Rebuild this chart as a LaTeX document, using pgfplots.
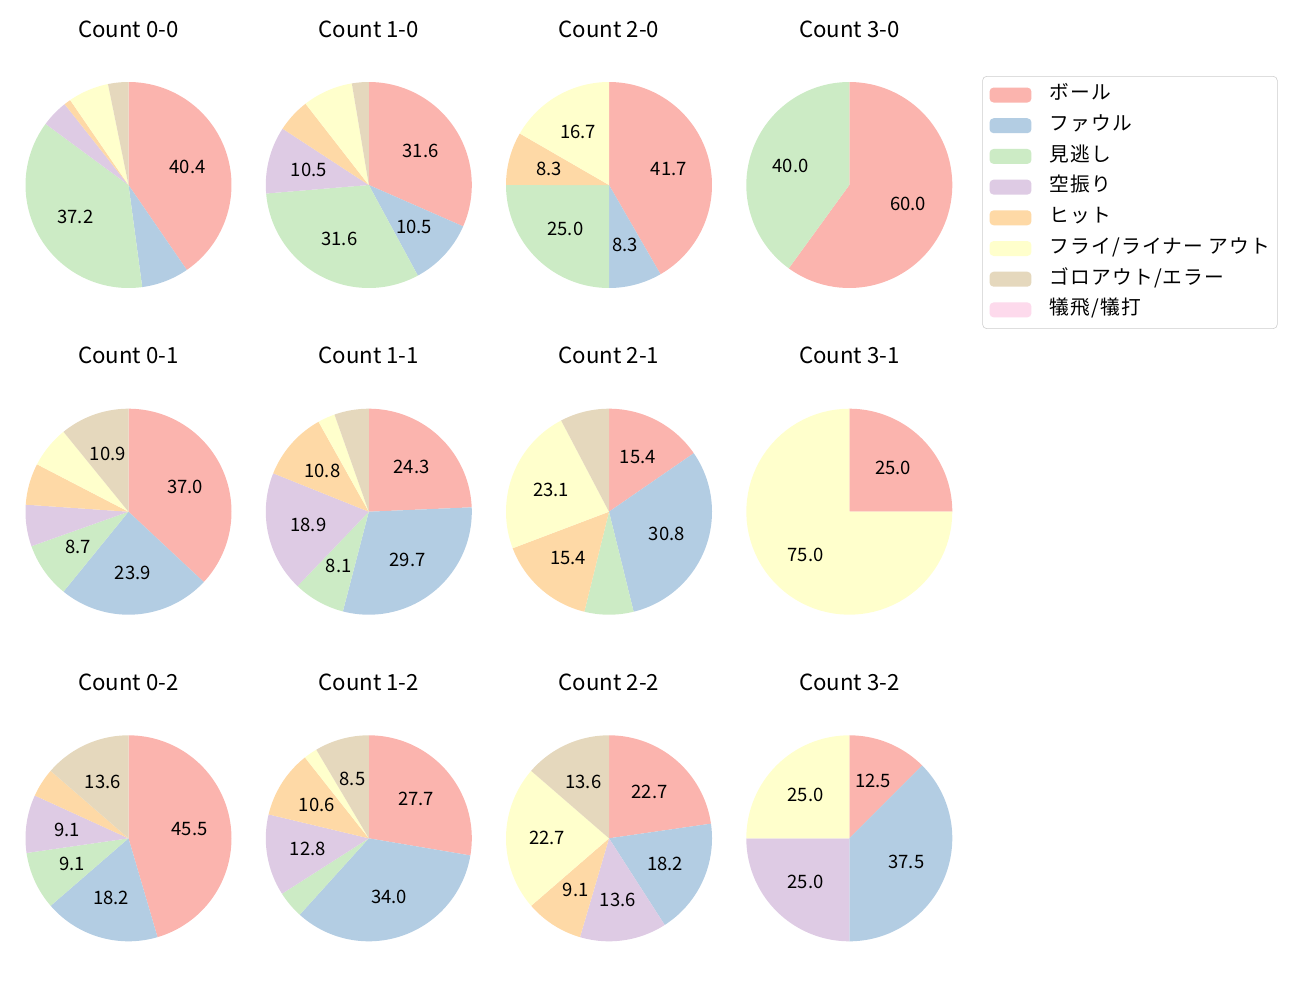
\documentclass[border=0pt]{standalone}
\usepackage{pgfplots}
\pgfplotsset{compat=1.18}
\usepackage{fontspec}
\setmainfont{Noto Sans CJK JP}
\newfontfamily\legjp[LetterSpace=6]{Noto Sans CJK JP}
\newcommand\titlefont{\fontsize{16}{19}\selectfont}
\newcommand\labfont{\fontsize{13.3}{16}\selectfont}
\newcommand\legfont{\legjp\fontsize{14.2}{17}\selectfont}
\definecolor{pie1}{HTML}{FBB4AE}
\definecolor{pie2}{HTML}{B3CDE3}
\definecolor{pie3}{HTML}{CCEBC5}
\definecolor{pie4}{HTML}{DECBE4}
\definecolor{pie5}{HTML}{FED9A6}
\definecolor{pie6}{HTML}{FFFFCC}
\definecolor{pie7}{HTML}{E5D8BD}
\definecolor{pie8}{HTML}{FDDAEC}
\pgfplotsset{pieax/.style={hide axis, scale only axis, width=148.32pt, height=148.32pt,
  xmin=-1, xmax=1, ymin=-1, ymax=1, anchor=center, clip=false}}
% counts: ボール, ファウル, 見逃し, 空振り, ヒット, フライ/ライナー アウト, ゴロアウト/エラー, 犠飛/犠打
\newcommand\drawpie[2]{%
  \xdef\tot{0}%
  \foreach \v in {#1}{\pgfmathtruncatemacro\tmp{\tot+\v}\xdef\tot{\tmp}}%
  \xdef\cum{0}%
  \foreach \v [count=\i] in {#1}{%
    \pgfmathsetmacro\angA{90-360*(\cum/\tot)}%
    \pgfmathtruncatemacro\tmp{\cum+\v}\xdef\cum{\tmp}%
    \pgfmathsetmacro\angB{90-360*(\cum/\tot)}%
    \ifnum\v>0
      \edef\temp{\noexpand\addplot[fill=pie\i, draw=none, mark=none, domain=\angB:\angA, samples=72, variable=\noexpand\t] ({cos(\noexpand\t)},{sin(\noexpand\t)}) -- (axis cs:0,0) -- cycle;}\temp
      \pgfmathtruncatemacro\rr{round(1000*(\v/\tot))}%
      \ifnum\rr>79
        \pgfmathtruncatemacro\pint{\rr/10}%
        \pgfmathtruncatemacro\pdec{\rr-10*\pint}%
        \pgfmathsetmacro\lx{0.6*cos((\angA+\angB)/2)}%
        \pgfmathsetmacro\ly{0.6*sin((\angA+\angB)/2)}%
        \edef\temp{\noexpand\node[font=\noexpand\labfont] at (axis cs:\lx,\ly) {\pint.\pdec};}\temp
      \fi
    \fi
  }%
  \node[font=\titlefont] at (axis cs:0,1.515) {#2};
}
\begin{document}
\begin{tikzpicture}[x=0.72pt,y=-0.72pt]
\path[use as bounding box] (0,0) rectangle (1300,1000);
\coordinate (p00) at (128.5,185);
\coordinate (p10) at (368.8,185);
\coordinate (p20) at (609,185);
\coordinate (p30) at (849.3,185);
\coordinate (p01) at (128.5,511.7);
\coordinate (p11) at (368.8,511.7);
\coordinate (p21) at (609,511.7);
\coordinate (p31) at (849.3,511.7);
\coordinate (p02) at (128.5,838.3);
\coordinate (p12) at (368.8,838.3);
\coordinate (p22) at (609,838.3);
\coordinate (p32) at (849.3,838.3);

\begin{axis}[pieax, at={(p00)}]\drawpie{38,7,35,4,1,6,3,0}{Count 0-0}\end{axis}
\begin{axis}[pieax, at={(p10)}]\drawpie{12,4,12,4,2,3,1,0}{Count 1-0}\end{axis}
\begin{axis}[pieax, at={(p20)}]\drawpie{5,1,3,0,1,2,0,0}{Count 2-0}\end{axis}
\begin{axis}[pieax, at={(p30)}]\drawpie{3,0,2,0,0,0,0,0}{Count 3-0}\end{axis}
\begin{axis}[pieax, at={(p01)}]\drawpie{17,11,4,3,3,3,5,0}{Count 0-1}\end{axis}
\begin{axis}[pieax, at={(p11)}]\drawpie{9,11,3,7,4,1,2,0}{Count 1-1}\end{axis}
\begin{axis}[pieax, at={(p21)}]\drawpie{2,4,1,0,2,3,1,0}{Count 2-1}\end{axis}
\begin{axis}[pieax, at={(p31)}]\drawpie{1,0,0,0,0,3,0,0}{Count 3-1}\end{axis}
\begin{axis}[pieax, at={(p02)}]\drawpie{10,4,2,2,1,0,3,0}{Count 0-2}\end{axis}
\begin{axis}[pieax, at={(p12)}]\drawpie{13,16,2,6,5,1,4,0}{Count 1-2}\end{axis}
\begin{axis}[pieax, at={(p22)}]\drawpie{5,4,0,3,2,5,3,0}{Count 2-2}\end{axis}
\begin{axis}[pieax, at={(p32)}]\drawpie{1,3,0,2,0,2,0,0}{Count 3-2}\end{axis}

\begin{axis}[pieax, at={(p30)},
  legend image code/.code={\fill[#1] (0pt,-5.4pt) rectangle (30.2pt,5.4pt);},
  legend cell align=left,
  legend style={at={(axis description cs:1.1456,1.0291)}, anchor=north west,
    draw=black!20, rounded corners=3pt, font=\legfont, fill=white,
    inner xsep=5pt, inner ysep=7.5pt, row sep=10.1pt, column sep=0pt,
    nodes={inner sep=0pt, text height=9.5pt, text depth=2.5pt},
    /tikz/every odd column/.append style={column sep=13pt}}]
\addlegendimage{fill=pie1, draw=none}\addlegendentry{ボール}
\addlegendimage{fill=pie2, draw=none}\addlegendentry{ファウル}
\addlegendimage{fill=pie3, draw=none}\addlegendentry{見逃し}
\addlegendimage{fill=pie4, draw=none}\addlegendentry{空振り}
\addlegendimage{fill=pie5, draw=none}\addlegendentry{ヒット}
\addlegendimage{fill=pie6, draw=none}\addlegendentry{フライ/ライナー アウト}
\addlegendimage{fill=pie7, draw=none}\addlegendentry{ゴロアウト/エラー}
\addlegendimage{fill=pie8, draw=none}\addlegendentry{犠飛/犠打}
\end{axis}
\end{tikzpicture}
\end{document}
